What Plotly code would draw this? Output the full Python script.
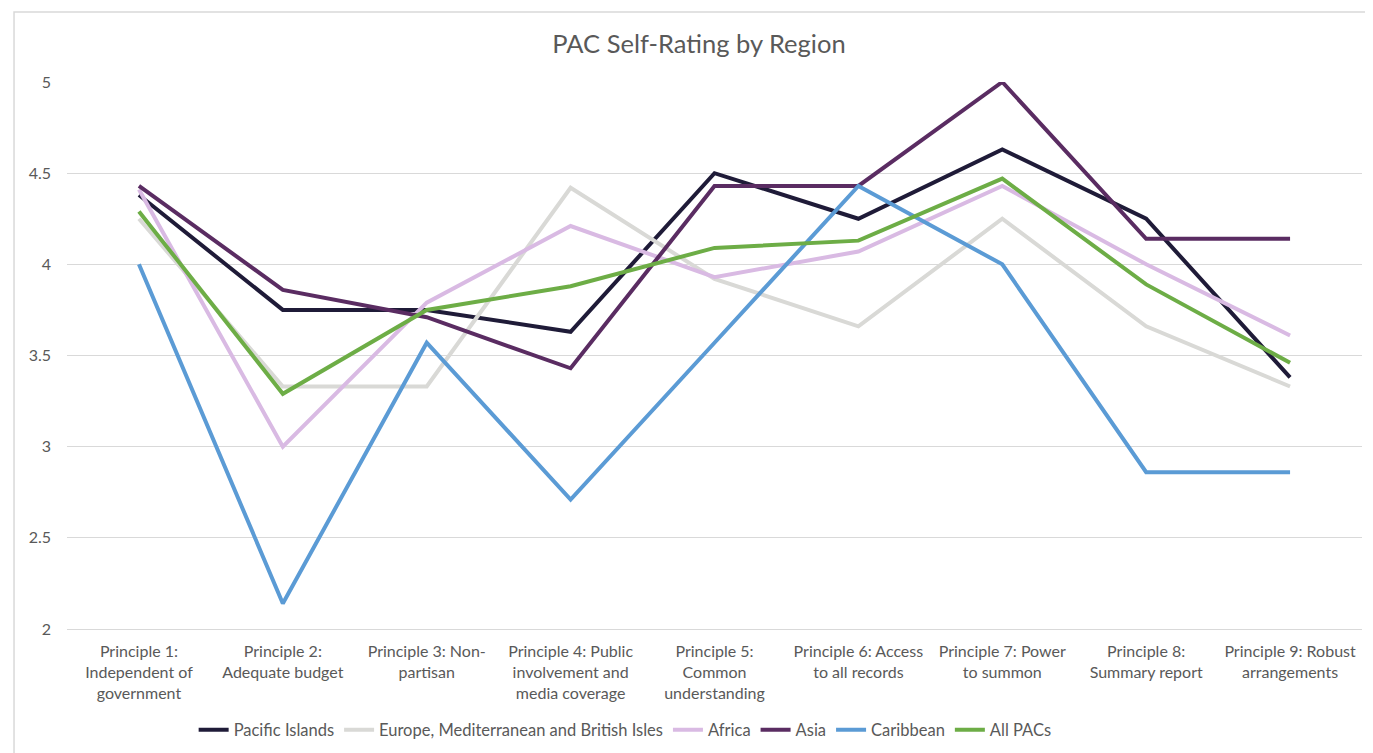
import plotly.graph_objects as go

categories = [
    "Principle 1:<br>Independent of<br>government",
    "Principle 2:<br>Adequate budget",
    "Principle 3: Non-<br>partisan",
    "Principle 4: Public<br>involvement and<br>media coverage",
    "Principle 5:<br>Common<br>understanding",
    "Principle 6: Access<br>to all records",
    "Principle 7: Power<br>to summon",
    "Principle 8:<br>Summary report",
    "Principle 9: Robust<br>arrangements",
]

pacific_islands = [4.38, 3.75, 3.75, 3.63, 4.50, 4.25, 4.63, 4.25, 3.38]
europe_med_bi = [4.25, 3.33, 3.33, 4.42, 3.92, 3.66, 4.25, 3.66, 3.33]
africa = [4.41, 3.00, 3.79, 4.21, 3.93, 4.07, 4.43, 4.00, 3.61]
asia = [4.43, 3.86, 3.71, 3.43, 4.43, 4.43, 5.00, 4.14, 4.14]
caribbean = [4.00, 2.14, 3.57, 2.71, 3.57, 4.43, 4.00, 2.86, 2.86]
all_pacs = [4.29, 3.29, 3.75, 3.88, 4.09, 4.13, 4.47, 3.89, 3.46]

y_ticks = [2, 2.5, 3, 3.5, 4, 4.5, 5]

series = [
    ("Pacific Islands", pacific_islands, "#1F1B38"),
    ("Europe, Mediterranean and British Isles", europe_med_bi, "#D9D9D6"),
    ("Africa", africa, "#D9BAE3"),
    ("Asia", asia, "#5A2C62"),
    ("Caribbean", caribbean, "#5B9BD5"),
    ("All PACs", all_pacs, "#6DAD46"),
]

FONT = "Lato, Calibri, Carlito, sans-serif"
x_idx = list(range(len(categories)))

fig = go.Figure()
for name, vals, color in series:
    fig.add_trace(go.Scatter(
        x=x_idx, y=vals, name=name, mode="lines",
        line=dict(color=color, width=4),
    ))

fig.update_layout(
    width=1365, height=745,
    margin=dict(l=59, r=11, t=74, b=124),
    paper_bgcolor="white", plot_bgcolor="white",
    font=dict(family=FONT, color="#595959", size=16),
    title=dict(text="PAC Self-Rating by Region", x=0.488, xref="paper",
               xanchor="center", y=1 - 36 / 745, yanchor="middle",
               font=dict(size=25.5, color="#595959", family=FONT)),
    showlegend=True,
    legend=dict(orientation="h", x=0.431, xanchor="center",
                yref="container", y=1 - (730 - 8) / 745, yanchor="middle",
                font=dict(size=16.5, color="#595959"),
                itemwidth=30, tracegroupgap=0),
    xaxis=dict(range=[-0.5, 8.5], tickvals=x_idx, ticktext=categories,
               showgrid=False, zeroline=False, showline=True,
               linecolor="#D9D9D9", linewidth=1, ticks="",
               automargin=False, ticklabelstandoff=8,
               tickfont=dict(size=16, color="#595959")),
    yaxis=dict(range=[2, 5], tickvals=y_ticks, ticktext=[str(v) for v in y_ticks],
               showgrid=True, gridcolor="#D9D9D9", gridwidth=1, zeroline=False,
               showline=False, ticks="", automargin=False, ticklabelstandoff=15,
               tickfont=dict(size=16, color="#595959")),
    shapes=[dict(type="rect", xref="paper", yref="paper",
                 x0=-0.0409, x1=1.05, y0=-0.3, y1=1.128,
                 line=dict(color="#D9D9D9", width=1.5), fillcolor="rgba(0,0,0,0)",
                 layer="below")],
)

fig.write_html("out.html")
